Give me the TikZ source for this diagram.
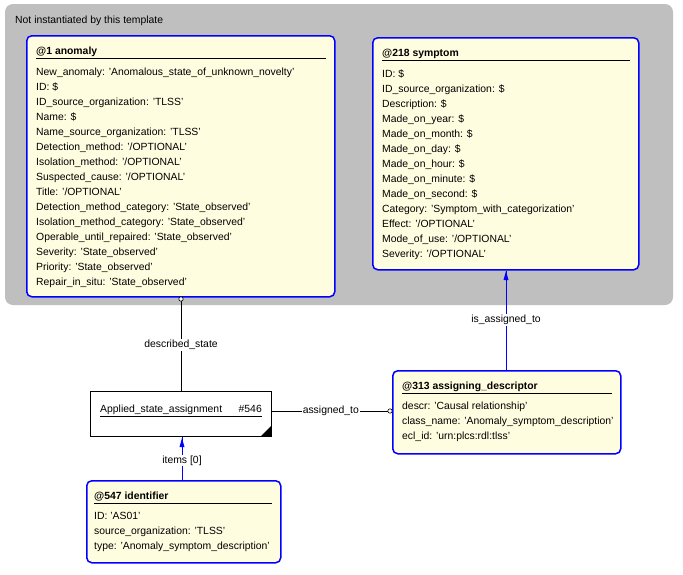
\documentclass[tikz,border=0pt]{standalone}
\usepackage{fontspec}
\setmainfont{Liberation Sans}
\begin{document}
\begin{tikzpicture}[x=1pt,y=-1pt,
  ent/.style={draw=blue,line width=1.5pt,rounded corners=5pt,fill=yellow!12},
  t/.style={anchor=base west,inner sep=0,font=\fontsize{10.4}{12}\selectfont},
  tb/.style={t,font=\fontsize{10.4}{12}\selectfont\bfseries},
  lab/.style={fill=white,inner sep=1pt,font=\fontsize{10.4}{12}\selectfont},
  ln/.style={line width=0.6pt}]
\useasboundingbox (0,0) rectangle (683,574);
\fill[white] (0,0) rectangle (683,574);
\fill[gray!50, rounded corners=8pt] (5,4) rectangle (673,305);
\node[t] (grp) at (15,23) {Not instantiated by this template};
% anomaly
\node[ent,minimum width=308pt,minimum height=261pt,anchor=north west] (a) at (26,35) {};
\node[tb] (at) at (36,54) {@1 anomaly};
\draw[ln] (36,58) -- (326,58);
\foreach \s [count=\i from 0] in {New\_anomaly: 'Anomalous\_state\_of\_unknown\_novelty',ID: \$,ID\_source\_organization: 'TLSS',Name: \$,Name\_source\_organization: 'TLSS',Detection\_method: '/OPTIONAL',Isolation\_method: '/OPTIONAL',Suspected\_cause: '/OPTIONAL',Title: '/OPTIONAL',Detection\_method\_category: 'State\_observed',Isolation\_method\_category: 'State\_observed',Operable\_until\_repaired: 'State\_observed',Severity: 'State\_observed',Priority: 'State\_observed',Repair\_in\_situ: 'State\_observed'}
  \node[t] (a\i) at (36,75+15*\i) {\s};
% symptom
\node[ent,minimum width=266pt,minimum height=232pt,anchor=north west] (s) at (372,37) {};
\node[tb] (st) at (382,56) {@218 symptom};
\draw[ln] (382,60) -- (630,60);
\foreach \s [count=\i from 0] in {ID: \$,ID\_source\_organization: \$,Description: \$,Made\_on\_year: \$,Made\_on\_month: \$,Made\_on\_day: \$,Made\_on\_hour: \$,Made\_on\_minute: \$,Made\_on\_second: \$,Category: 'Symptom\_with\_categorization',Effect: '/OPTIONAL',Mode\_of\_use: '/OPTIONAL',Severity: '/OPTIONAL'}
  \node[t] (s\i) at (382,77+15*\i) {\s};
% descriptor
\node[ent,minimum width=228pt,minimum height=83pt,anchor=north west] (d) at (392,370) {};
\node[tb] (dt) at (402,389) {@313 assigning\_descriptor};
\draw[ln] (402,393) -- (612,393);
\foreach \s [count=\i from 0] in {descr: 'Causal relationship',class\_name: 'Anomaly\_symptom\_description',ecl\_id: 'urn:plcs:rdl:tlss'}
  \node[t] (d\i) at (402,409+15*\i) {\s};
% identifier
\node[ent,minimum width=194pt,minimum height=82pt,anchor=north west] (i) at (86,480) {};
\node[tb] (it) at (94,499) {@547 identifier};
\draw[ln] (94,503) -- (272,503);
\foreach \s [count=\i from 0] in {ID: 'AS01',source\_organization: 'TLSS',type: 'Anomaly\_symptom\_description'}
  \node[t] (i\i) at (94,519+15*\i) {\s};
% ASA
\node[draw,ln,fill=white,minimum width=181pt,minimum height=45pt,anchor=north west] (asa) at (90,391) {};
\fill (271,436) -- (261,436) -- (271,426) -- cycle;
\node[t] (asat) at (100,412) {Applied\_state\_assignment};
\node[t,anchor=base east] (asan) at (262,412) {\#546};
\draw[ln] (100,416) -- (262,416);
% connectors
\coordinate (c1) at (181,299);
\draw[ln] (asa.north -| c1) -- node[lab] {described\_state} (c1);
\draw[ln,fill=white] (181,299) circle (2.2pt);
\coordinate (c2) at (390,411);
\draw[ln] (asa.east |- c2) -- node[lab] {assigned\_to} (c2);
\draw[ln,fill=white] (390,411) circle (2.2pt);
\draw[ln,blue] (d.north -| 506,0) -- node[lab,text=black] {is\_assigned\_to} (s.south -| 506,0);
\fill[blue] (506,271) -- (503.5,280) -- (508.5,280) -- cycle;
\draw[ln,blue] (i.north -| 182,0) -- node[lab,text=black,pos=0.45] {items [0]} (asa.south -| 182,0);
\fill[blue] (182,438) -- (179.5,447) -- (184.5,447) -- cycle;
\end{tikzpicture}
\end{document}
